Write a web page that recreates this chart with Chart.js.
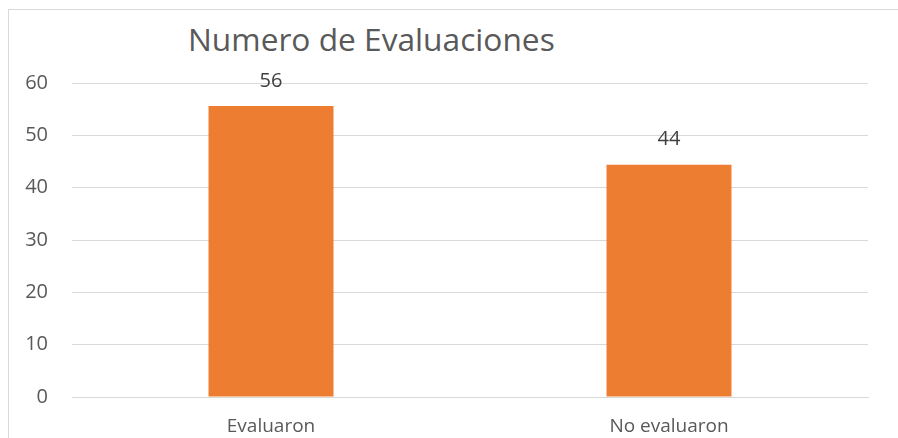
<!DOCTYPE html>
<html>
<head>
<meta charset="utf-8">
<script src="https://cdn.jsdelivr.net/npm/chart.js@4"></script>
<style>
  body { margin: 0; background: #fff; }
  #wrap { position: relative; width: 898px; height: 438px; overflow: hidden; }
  #frame { position: absolute; left: 8px; top: 9px; width: 1000px; height: 600px; border: 1px solid #d9d9d9; }
  #title { position: absolute; left: 188px; top: 17px; font-family: "Open Sans"; font-size: 31.7px; color: #595959; white-space: nowrap; }
  canvas { position: absolute; left: 0; top: 0; }
</style>
</head>
<body>
<div id="wrap">
  <div id="frame"></div>
  <div id="title">Numero de Evaluaciones</div>
  <canvas id="barChart" width="898" height="438"></canvas>
</div>
<script>
const categories = ["Evaluaron", "No evaluaron"];
const values = [55.6, 44.4];
const yTicks = [0, 10, 20, 30, 40, 50, 60];

const fontFam = "Open Sans";

// value labels above each bar
const barLabels = {
    id: "barLabels",
    afterDatasetsDraw(chart) {
        const ctx = chart.ctx;
        const meta = chart.getDatasetMeta(0);
        ctx.save();
        ctx.font = "20px " + fontFam;
        ctx.fillStyle = "#404040";
        ctx.textAlign = "center";
        ctx.textBaseline = "middle";
        meta.data.forEach((bar, i) => {
            ctx.fillText(Math.round(values[i]), bar.x, bar.y - 25);
        });
        ctx.restore();
    }
};

const barChart = new Chart(document.getElementById("barChart"), {
    type: "bar",
    data: {
        labels: categories,
        datasets: [{
            data: values,
            backgroundColor: "#ed7d31",
            categoryPercentage: 1,
            barPercentage: 0.314
        }]
    },
    options: {
        responsive: false,
        animation: false,
        layout: { padding: { top: 83, right: 30, left: 0, bottom: 0 } },
        plugins: { legend: { display: false }, tooltip: { enabled: false } },
        scales: {
            y: {
                min: 0,
                max: 60,
                afterFit: s => { s.width = 72; },
                afterBuildTicks: s => { s.ticks = yTicks.map(v => ({ value: v })); },
                ticks: {
                    padding: 24,
                    color: "#595959",
                    font: { family: fontFam, size: 20 }
                },
                grid: { color: "#d9d9d9", drawTicks: false },
                border: { display: false }
            },
            x: {
                afterFit: s => { s.height = 41; },
                ticks: {
                    padding: 18,
                    color: "#595959",
                    font: { family: fontFam, size: 19 }
                },
                grid: { display: false, drawTicks: false },
                border: { color: "#d9d9d9" }
            }
        }
    },
    plugins: [barLabels]
});
</script>
</body>
</html>
